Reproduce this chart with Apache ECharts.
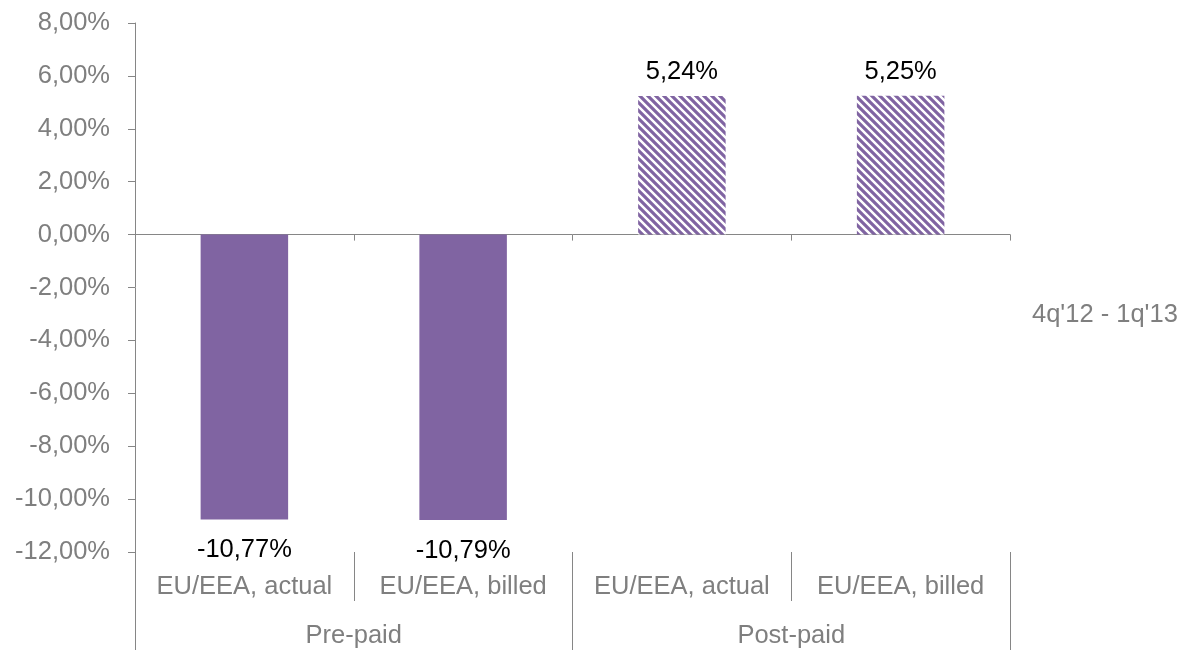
<!DOCTYPE html>
<html>
<head>
<meta charset="utf-8">
<script src="https://cdn.jsdelivr.net/npm/echarts@6/dist/echarts.min.js"></script>
<style>
html,body{margin:0;padding:0;background:#fff;}
#chart{width:1188px;height:650px;}
</style>
</head>
<body>
<div id="chart"></div>
<script>
const categories = ['EU/EEA, actual', 'EU/EEA, billed', 'EU/EEA, actual', 'EU/EEA, billed'];
const groups = ['Pre-paid', 'Post-paid'];
const seriesName = "4q'12 - 1q'13";
const values = [-10.77, -10.79, 5.24, 5.25];
const hatched = [false, false, true, true];
const yMin = -12, yMax = 8, yStep = 2;

const PURPLE = '#8064A2';
const GRAY = '#868686';
const LABEL_GRAY = '#7f7f7f';
const FONT = '"Liberation Sans", Arial, sans-serif';
const FS = 25.5;

function makePattern() {
  const s = 8;
  const c = document.createElement('canvas');
  c.width = s; c.height = s;
  const ctx = c.getContext('2d');
  ctx.fillStyle = '#ffffff';
  ctx.fillRect(0, 0, s, s);
  ctx.strokeStyle = PURPLE;
  ctx.lineWidth = 3.2;
  ctx.beginPath();
  ctx.moveTo(-s, -s); ctx.lineTo(2 * s, 2 * s);
  ctx.moveTo(-s, 0); ctx.lineTo(s, 2 * s);
  ctx.moveTo(0, -s); ctx.lineTo(2 * s, s);
  ctx.stroke();
  return c;
}
const pattern = makePattern();

const fmt = v => Number(v).toFixed(2).replace('.', ',') + '%';

const chart = echarts.init(document.getElementById('chart'));
chart.setOption({
  animation: false,
  textStyle: { fontFamily: FONT },
  grid: { left: 135, right: 178, top: 23, bottom: 98, containLabel: false },
  legend: {
    data: [seriesName],
    left: 1022, top: 297,
    itemWidth: 0, itemHeight: 0, itemGap: 0,
    textStyle: { color: LABEL_GRAY, fontSize: FS, fontFamily: FONT }
  },
  xAxis: [
    {
      type: 'category', data: categories, position: 'bottom',
      axisLine: { onZero: true, lineStyle: { color: GRAY, width: 1 } },
      axisTick: { show: true, interval: 0, length: 6, lineStyle: { color: GRAY } },
      axisLabel: { show: false }
    },
    {
      type: 'category', data: categories, position: 'bottom',
      axisLine: { show: false, onZero: false },
      axisTick: { show: true, interval: 0, length: 49, lineStyle: { color: GRAY } },
      axisLabel: { interval: 0, margin: 22, color: LABEL_GRAY, fontSize: FS, fontFamily: FONT }
    },
    {
      type: 'category', data: groups, position: 'bottom',
      axisLine: { show: false, onZero: false },
      axisTick: { show: true, interval: 0, length: 100, lineStyle: { color: GRAY } },
      axisLabel: { interval: 0, margin: 71, color: LABEL_GRAY, fontSize: FS, fontFamily: FONT }
    }
  ],
  yAxis: {
    type: 'value', min: yMin, max: yMax, interval: yStep,
    axisLine: { show: true, lineStyle: { color: GRAY, width: 1 } },
    axisTick: { show: true, length: 7, lineStyle: { color: GRAY } },
    splitLine: { show: false },
    axisLabel: { margin: 25, color: LABEL_GRAY, fontSize: FS, fontFamily: FONT, formatter: fmt }
  },
  series: [{
    name: seriesName,
    type: 'bar',
    xAxisIndex: 0,
    barWidth: '40%',
    itemStyle: { color: PURPLE },
    label: {
      show: true, color: '#000', fontSize: FS, fontFamily: FONT,
      formatter: p => fmt(p.value)
    },
    data: values.map((v, i) => ({
      value: v,
      itemStyle: { color: hatched[i] ? { image: pattern, repeat: 'repeat' } : PURPLE },
      label: { position: v < 0 ? 'bottom' : 'top', distance: v < 0 ? 18 : 11 }
    }))
  }]
});
</script>
</body>
</html>
